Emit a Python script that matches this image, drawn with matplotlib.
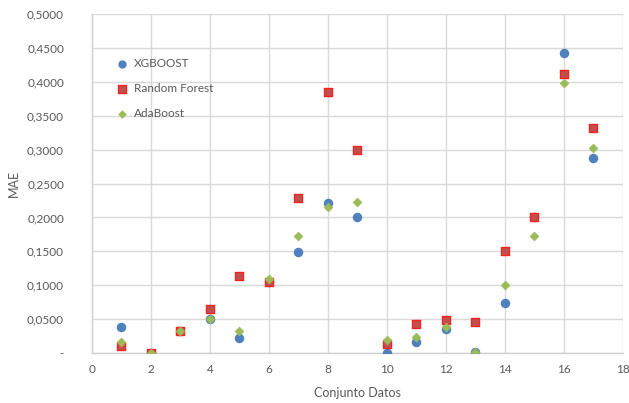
import numpy as np
import matplotlib.pyplot as plt
from matplotlib.ticker import FuncFormatter

# Conjuntos de datos y error medio absoluto de cada modelo
conjuntos = [1, 2, 3, 4, 5, 6, 7, 8, 9, 10, 11, 12, 13, 14, 15, 16, 17]
mae_xgb = [0.038, 0.000, 0.033, 0.050, 0.022, 0.105, 0.149, 0.221, 0.200,
           0.000, 0.017, 0.036, 0.001, 0.074, 0.200, 0.442, 0.288]
mae_rf = [0.011, 0.000, 0.033, 0.065, 0.114, 0.105, 0.229, 0.385, 0.299,
          0.014, 0.043, 0.048, 0.046, 0.150, 0.201, 0.412, 0.332]
mae_ada = [0.017, 0.000, 0.033, 0.050, 0.033, 0.109, 0.173, 0.216, 0.223,
           0.019, 0.023, 0.038, 0.001, 0.101, 0.173, 0.399, 0.302]

gris = '#595959'
plt.rcParams['font.family'] = ['Lato', 'DejaVu Sans']

fig = plt.figure(figsize=(6.29, 4.03), dpi=100)
ax = fig.add_axes([0.146, 0.124, 0.844, 0.841])

ax.scatter(conjuntos, mae_xgb, s=34, marker='o', color='#4F81BD',
           edgecolors='#4F81BD', label='XGBOOST', zorder=3)
ax.scatter(conjuntos, mae_rf, s=36, marker='s', color='#C0504D',
           edgecolors='#FF2020', linewidths=1.0, label='Random Forest', zorder=3)
ax.scatter(conjuntos, mae_ada, s=20, marker='D', color='#9BBB59',
           edgecolors='#9BBB59', linewidths=0.5, label='AdaBoost', zorder=4)

ax.set_xlim(0, 18)
ax.set_ylim(0, 0.5)
ax.set_xticks(np.arange(0, 19, 2))
ax.set_yticks(np.arange(0, 0.5001, 0.05))


def formato_y(v, pos):
    if abs(v) < 1e-9:
        return '-'
    return f'{v:.4f}'.replace('.', ',')


ax.yaxis.set_major_formatter(FuncFormatter(formato_y))

ax.grid(True, color='#D9D9D9', linewidth=1.0)
ax.set_axisbelow(True)
for lado in ['top', 'right']:
    ax.spines[lado].set_visible(False)
for lado in ['left', 'bottom']:
    ax.spines[lado].set_color('#D0D0D0')
    ax.spines[lado].set_linewidth(1.0)

ax.tick_params(axis='both', length=0, colors=gris, labelsize=8.5)
ax.tick_params(axis='y', pad=20)
ax.tick_params(axis='x', pad=8)

ax.set_xlabel('Conjunto Datos', color=gris, fontsize=9)
ax.set_ylabel('MAE', color=gris, fontsize=9)
ax.xaxis.set_label_coords(0.5, -0.1)
ax.yaxis.set_label_coords(-0.135, 0.5)

ax.legend(loc='upper left', bbox_to_anchor=(0.025, 0.885), frameon=False,
          fontsize=8.5, labelcolor=gris, handletextpad=0.05,
          labelspacing=1.2, borderaxespad=0, markerscale=0.85)

fig.savefig('out.png', dpi=100)
